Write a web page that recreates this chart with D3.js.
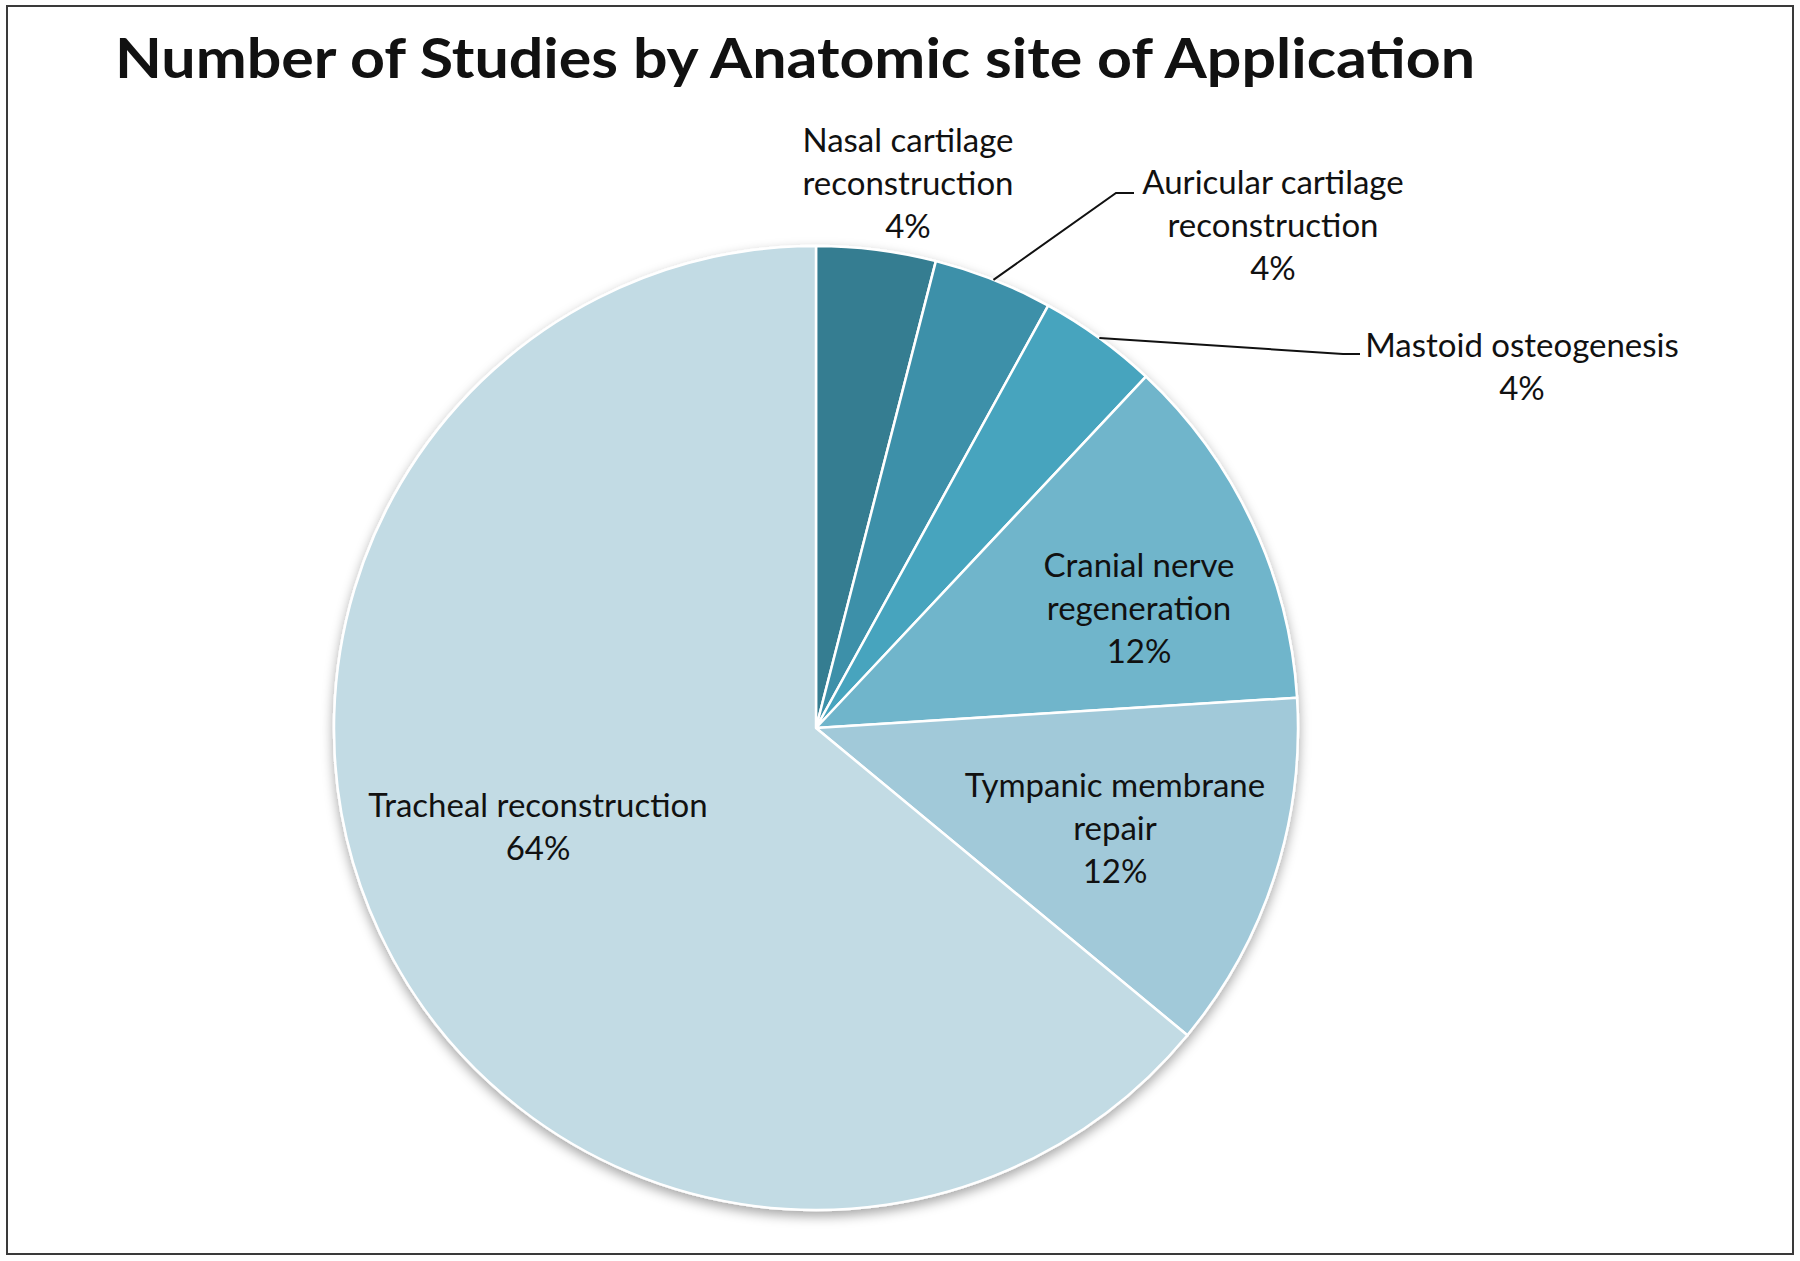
<!DOCTYPE html>
<html>
<head>
<meta charset="utf-8">
<script src="https://cdn.jsdelivr.net/npm/d3@7"></script>
<style>
    html, body { margin: 0; padding: 0; background: #ffffff; }
    svg { display: block; }
    text { font-family: Lato, "Open Sans", sans-serif; fill: #111111; }
</style>
</head>
<body>
<div id="chart"></div>
<script>
'use strict';

// data
var categories = [
    ['Nasal cartilage', 'reconstruction'],
    ['Auricular cartilage', 'reconstruction'],
    ['Mastoid osteogenesis'],
    ['Cranial nerve', 'regeneration'],
    ['Tympanic membrane', 'repair'],
    ['Tracheal reconstruction']
];
var percentages = [4, 4, 4, 12, 12, 64];
var sliceColors = ['#357d91', '#3e90a9', '#46a4be', '#70b5cb', '#a1c9d9', '#c2dbe4'];
var title = 'Number of Studies by Anatomic site of Application';

// layout
var width = 1800,
    height = 1261,
    cx = 816,
    cy = 728,
    radius = 482,
    lineHeight = 43;

// label centres relative to pie centre (first line y), plus leader elbows where needed
var labelLayout = [
    { x: 92,  y: -589, leader: null },
    { x: 457, y: -547, leader: [[300, -535], [318, -535]] },
    { x: 706, y: -384, leader: [[527, -374], [544, -374]] },
    { x: 323, y: -164, leader: null },
    { x: 299, y:   56, leader: null },
    { x: -278, y:  76, leader: null }
];

var svg = d3.select('#chart').append('svg')
    .attr('width', width)
    .attr('height', height);

var defs = svg.append('defs');
defs.append('filter')
        .attr('id', 'pieShadow')
        .attr('x', '-10%')
        .attr('y', '-10%')
        .attr('width', '120%')
        .attr('height', '125%')
    .append('feDropShadow')
        .attr('dx', 0)
        .attr('dy', 5)
        .attr('stdDeviation', 6)
        .attr('flood-color', '#000000')
        .attr('flood-opacity', 0.35);

svg.append('rect')
    .attr('x', 7)
    .attr('y', 6)
    .attr('width', width - 14)
    .attr('height', height - 13)
    .attr('fill', '#ffffff')
    .attr('stroke', '#3a3a3a')
    .attr('stroke-width', 2);

svg.append('text')
    .attr('x', 115)
    .attr('y', 78)
    .attr('font-size', '56px')
    .attr('font-weight', 'bold')
    .attr('textLength', 1360)
    .attr('lengthAdjust', 'spacingAndGlyphs')
    .text(title);

var slices = categories.map(function(c, i) {
    return { lines: c, value: percentages[i], color: sliceColors[i], layout: labelLayout[i] };
});

var pie = d3.pie()
    .sort(null)
    .value(function(d) { return d.value; });

var arc = d3.arc()
    .innerRadius(0)
    .outerRadius(radius);

var edgeArc = d3.arc()
    .innerRadius(radius)
    .outerRadius(radius);

var chartGroup = svg.append('g')
    .attr('transform', 'translate(' + cx + ',' + cy + ')');

var arcs = pie(slices);

chartGroup.append('g')
        .attr('filter', 'url(#pieShadow)')
    .selectAll('path')
    .data(arcs)
    .enter().append('path')
        .attr('d', arc)
        .attr('fill', function(d) { return d.data.color; })
        .attr('stroke', '#ffffff')
        .attr('stroke-width', 2.5)
        .attr('stroke-linejoin', 'round');

// leader lines
chartGroup.selectAll('.leader')
    .data(arcs.filter(function(d) { return d.data.layout.leader; }))
    .enter().append('polyline')
        .attr('class', 'leader')
        .attr('points', function(d) {
            var start = edgeArc.centroid(d);
            return [start].concat(d.data.layout.leader).map(function(p) { return p.join(','); }).join(' ');
        })
        .attr('fill', 'none')
        .attr('stroke', '#111111')
        .attr('stroke-width', 2);

// labels
var labels = chartGroup.selectAll('.label')
    .data(arcs)
    .enter().append('text')
        .attr('class', 'label')
        .attr('text-anchor', 'middle')
        .attr('font-size', '33px')
        .attr('dominant-baseline', 'central');

labels.each(function(d) {
    var t = d3.select(this);
    var rows = d.data.lines.concat([d.data.value + '%']);
    rows.forEach(function(row, j) {
        t.append('tspan')
            .attr('x', d.data.layout.x)
            .attr('y', d.data.layout.y + j * lineHeight)
            .text(row);
    });
});
</script>
</body>
</html>
